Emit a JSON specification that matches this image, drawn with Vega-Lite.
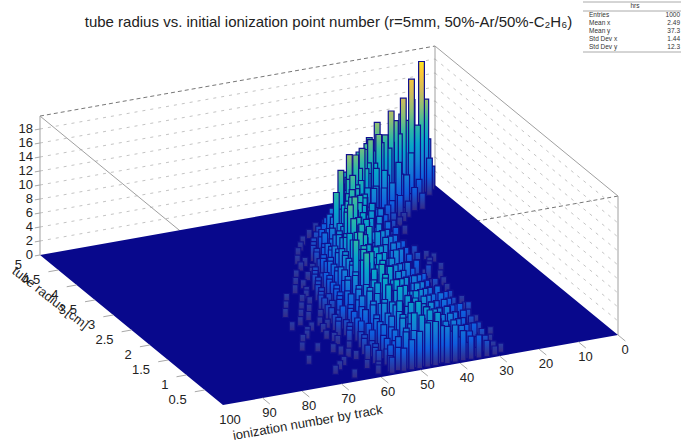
{"$schema":"https://vega.github.io/schema/vega-lite/v6.json","width":681,"height":442,"padding":0,"autosize":"none","background":"white","config":{"view":{"stroke":null},"text":{"font":"Liberation Sans"}},
"title":{"text":"tube radius vs. initial ionization point number (r=5mm, 50%-Ar/50%-C₂H₆)","font":"Liberation Sans","fontSize":15,"fontWeight":"normal","color":"#222","anchor":"middle","dx":-12,"dy":34},
"datasets":{
"segs":[{"k":"g","a":100,"b":5,"z":2,"a2":0,"b2":5,"z2":2},{"k":"g","a":100,"b":5,"z":4,"a2":0,"b2":5,"z2":4},{"k":"g","a":100,"b":5,"z":6,"a2":0,"b2":5,"z2":6},{"k":"g","a":100,"b":5,"z":8,"a2":0,"b2":5,"z2":8},{"k":"g","a":100,"b":5,"z":10,"a2":0,"b2":5,"z2":10},{"k":"g","a":100,"b":5,"z":12,"a2":0,"b2":5,"z2":12},{"k":"g","a":100,"b":5,"z":14,"a2":0,"b2":5,"z2":14},{"k":"g","a":100,"b":5,"z":16,"a2":0,"b2":5,"z2":16},{"k":"g","a":100,"b":5,"z":18,"a2":0,"b2":5,"z2":18},
{"k":"g","a":0,"b":5,"z":2,"a2":0,"b2":0,"z2":2},{"k":"g","a":0,"b":5,"z":4,"a2":0,"b2":0,"z2":4},{"k":"g","a":0,"b":5,"z":6,"a2":0,"b2":0,"z2":6},{"k":"g","a":0,"b":5,"z":8,"a2":0,"b2":0,"z2":8},{"k":"g","a":0,"b":5,"z":10,"a2":0,"b2":0,"z2":10},{"k":"g","a":0,"b":5,"z":12,"a2":0,"b2":0,"z2":12},{"k":"g","a":0,"b":5,"z":14,"a2":0,"b2":0,"z2":14},{"k":"g","a":0,"b":5,"z":16,"a2":0,"b2":0,"z2":16},{"k":"g","a":0,"b":5,"z":18,"a2":0,"b2":0,"z2":18},
{"k":"d","a":100,"b":5,"z":19.85,"a2":0,"b2":5,"z2":19.85},{"k":"d","a":0,"b":0,"z":19.85,"a2":100,"b2":0,"z2":19.85},
{"k":"f","a":0,"b":5,"z":19.85,"a2":0,"b2":0,"z2":19.85},{"k":"f","a":100,"b":5,"z":19.85,"a2":100,"b2":0,"z2":19.85},{"k":"f","a":100,"b":5,"z":0,"a2":100,"b2":5,"z2":19.85},{"k":"f","a":0,"b":5,"z":0,"a2":0,"b2":5,"z2":19.85},{"k":"f","a":0,"b":0,"z":0,"a2":0,"b2":0,"z2":19.85}],
"ticks":[{"a":100,"b":0.5,"z":0,"a2":102.5,"b2":0.5,"z2":0},{"a":100,"b":1,"z":0,"a2":102.5,"b2":1,"z2":0},{"a":100,"b":1.5,"z":0,"a2":102.5,"b2":1.5,"z2":0},{"a":100,"b":2,"z":0,"a2":102.5,"b2":2,"z2":0},{"a":100,"b":2.5,"z":0,"a2":102.5,"b2":2.5,"z2":0},{"a":100,"b":3,"z":0,"a2":102.5,"b2":3,"z2":0},{"a":100,"b":3.5,"z":0,"a2":102.5,"b2":3.5,"z2":0},{"a":100,"b":4,"z":0,"a2":102.5,"b2":4,"z2":0},{"a":100,"b":4.5,"z":0,"a2":102.5,"b2":4.5,"z2":0},
{"a":0,"b":0,"z":0,"a2":0,"b2":-0.2,"z2":0},{"a":10,"b":0,"z":0,"a2":10,"b2":-0.2,"z2":0},{"a":20,"b":0,"z":0,"a2":20,"b2":-0.2,"z2":0},{"a":30,"b":0,"z":0,"a2":30,"b2":-0.2,"z2":0},{"a":40,"b":0,"z":0,"a2":40,"b2":-0.2,"z2":0},{"a":50,"b":0,"z":0,"a2":50,"b2":-0.2,"z2":0},{"a":60,"b":0,"z":0,"a2":60,"b2":-0.2,"z2":0},{"a":70,"b":0,"z":0,"a2":70,"b2":-0.2,"z2":0},{"a":80,"b":0,"z":0,"a2":80,"b2":-0.2,"z2":0},{"a":90,"b":0,"z":0,"a2":90,"b2":-0.2,"z2":0},
{"a":100,"b":5,"z":0,"a2":101.3,"b2":5,"z2":0},{"a":100,"b":5,"z":2,"a2":101.3,"b2":5,"z2":2},{"a":100,"b":5,"z":4,"a2":101.3,"b2":5,"z2":4},{"a":100,"b":5,"z":6,"a2":101.3,"b2":5,"z2":6},{"a":100,"b":5,"z":8,"a2":101.3,"b2":5,"z2":8},{"a":100,"b":5,"z":10,"a2":101.3,"b2":5,"z2":10},{"a":100,"b":5,"z":12,"a2":101.3,"b2":5,"z2":12},{"a":100,"b":5,"z":14,"a2":101.3,"b2":5,"z2":14},{"a":100,"b":5,"z":16,"a2":101.3,"b2":5,"z2":16},{"a":100,"b":5,"z":18,"a2":101.3,"b2":5,"z2":18}],
"floor":[{"a":100,"b":5,"a2":100,"b2":5},{"a":53.67,"b":5,"a2":100,"b2":0},{"a":0,"b":5,"a2":46.3,"b2":0},{"a":0,"b":0,"a2":0,"b2":0}],
"zlab":[{"z":0},{"z":2},{"z":4},{"z":6},{"z":8},{"z":10},{"z":12},{"z":14},{"z":16},{"z":18}],
"rlab":[{"r":0.5},{"r":1},{"r":1.5},{"r":2},{"r":2.5},{"r":3},{"r":3.5},{"r":4},{"r":4.5},{"r":5}],
"alab":[{"t":0},{"t":10},{"t":20},{"t":30},{"t":40},{"t":50},{"t":60},{"t":70},{"t":80},{"t":90},{"t":100}],
"stats":[{"i":0,"name":"Entries","val":"1000"},{"i":1,"name":"Mean x","val":"2.49"},{"i":2,"name":"Mean y","val":"37.3"},{"i":3,"name":"Std Dev x","val":"1.44"},{"i":4,"name":"Std Dev y","val":"12.3"}],
"bars":[
{"b":4.9,"a":1,"n":3},{"b":4.9,"a":2,"n":7},{"b":4.85,"a":3,"n":13},{"b":4.9,"a":4,"n":9},{"b":4.9,"a":6,"n":13},{"b":4.9,"a":7,"n":9},{"b":4.9,"a":8,"n":10},{"b":4.9,"a":9,"n":8},{"b":4.9,"a":10,"n":5},{"b":4.9,"a":11,"n":4},{"b":4.9,"a":12,"n":3},{"b":4.9,"a":14,"n":1},
{"b":4.75,"a":3,"n":5},{"b":4.75,"a":5,"n":19},{"b":4.75,"a":6,"n":10},{"b":4.7,"a":8,"n":17},{"b":4.75,"a":9,"n":11},{"b":4.75,"a":10,"n":12},{"b":4.75,"a":11,"n":9},{"b":4.75,"a":12,"n":8},{"b":4.75,"a":14,"n":5},{"b":4.75,"a":15,"n":3},{"b":4.75,"a":17,"n":2},{"b":4.75,"a":20,"n":1},
{"b":4.6,"a":7,"n":3},{"b":4.6,"a":9,"n":7},{"b":4.6,"a":11,"n":15},{"b":4.6,"a":12,"n":10},{"b":4.6,"a":13,"n":12},{"b":4.6,"a":14,"n":9},{"b":4.5,"a":15,"n":14},{"b":4.6,"a":16,"n":10},{"b":4.6,"a":17,"n":7},{"b":4.6,"a":18,"n":6},{"b":4.6,"a":20,"n":4},{"b":4.6,"a":22,"n":2},{"b":4.6,"a":25,"n":1},
{"b":4.45,"a":11,"n":2},{"b":4.45,"a":13,"n":5},{"b":4.45,"a":16,"n":9},{"b":4.45,"a":17,"n":11},{"b":4.45,"a":18,"n":10},{"b":4.45,"a":19,"n":13},{"b":4.45,"a":20,"n":9},{"b":4.45,"a":21,"n":11},{"b":4.45,"a":22,"n":8},{"b":4.45,"a":23,"n":7},{"b":4.45,"a":25,"n":4},{"b":4.45,"a":27,"n":2},{"b":4.45,"a":31,"n":1},
{"b":4.4,"a":8,"n":2},{"b":4.4,"a":10,"n":3},{"b":4.4,"a":12,"n":5},{"b":4.4,"a":14,"n":7},
{"b":4.3,"a":14,"n":1},{"b":4.3,"a":16,"n":3},{"b":4.3,"a":18,"n":6},{"b":4.3,"a":20,"n":12},{"b":4.3,"a":21,"n":8},{"b":4.3,"a":22,"n":10},{"b":4.3,"a":23,"n":11},{"b":4.3,"a":24,"n":9},{"b":4.3,"a":25,"n":10},{"b":4.3,"a":26,"n":7},{"b":4.3,"a":28,"n":6},{"b":4.3,"a":30,"n":3},{"b":4.3,"a":32,"n":2},{"b":4.3,"a":36,"n":1},
{"b":4.25,"a":13,"n":2},{"b":4.25,"a":15,"n":3},{"b":4.25,"a":17,"n":5},{"b":4.25,"a":19,"n":7},
{"b":4.15,"a":15,"n":1},{"b":4.15,"a":18,"n":3},{"b":4.15,"a":20,"n":5},{"b":4.15,"a":22,"n":8},{"b":4.2,"a":23,"n":12},{"b":4.15,"a":24,"n":9},{"b":4.15,"a":25,"n":11},{"b":4.15,"a":26,"n":8},{"b":4.15,"a":27,"n":10},{"b":4.15,"a":28,"n":9},{"b":4.15,"a":29,"n":7},{"b":4.15,"a":31,"n":5},{"b":4.15,"a":33,"n":3},{"b":4.15,"a":35,"n":2},{"b":4.15,"a":39,"n":1},
{"b":4.05,"a":17,"n":1},{"b":4.05,"a":20,"n":3},{"b":4.05,"a":23,"n":6},{"b":4.05,"a":25,"n":8},
{"b":4,"a":19,"n":2},{"b":4,"a":22,"n":3},{"b":4,"a":24,"n":6},{"b":4,"a":26,"n":9},{"b":4,"a":27,"n":12},{"b":4,"a":28,"n":8},{"b":4,"a":29,"n":10},{"b":4,"a":30,"n":7},{"b":4,"a":31,"n":9},{"b":4,"a":32,"n":6},{"b":4,"a":34,"n":4},{"b":4,"a":36,"n":3},{"b":4,"a":38,"n":2},{"b":4,"a":42,"n":1},
{"b":3.85,"a":20,"n":1},{"b":3.85,"a":23,"n":2},{"b":3.85,"a":25,"n":4},{"b":3.85,"a":27,"n":7},{"b":3.85,"a":29,"n":10},{"b":3.85,"a":30,"n":12},{"b":3.85,"a":31,"n":8},{"b":3.85,"a":32,"n":9},{"b":3.85,"a":33,"n":7},{"b":3.85,"a":34,"n":6},{"b":3.85,"a":36,"n":5},{"b":3.85,"a":38,"n":3},{"b":3.85,"a":40,"n":2},{"b":3.85,"a":44,"n":1},
{"b":3.8,"a":18,"n":1},{"b":3.8,"a":21,"n":2},{"b":3.8,"a":23,"n":3},{"b":3.8,"a":25,"n":4},
{"b":3.7,"a":22,"n":1},{"b":3.7,"a":26,"n":3},{"b":3.7,"a":28,"n":5},{"b":3.7,"a":30,"n":9},{"b":3.7,"a":31,"n":7},{"b":3.7,"a":33,"n":13},{"b":3.7,"a":34,"n":8},{"b":3.7,"a":35,"n":9},{"b":3.7,"a":36,"n":6},{"b":3.7,"a":38,"n":5},{"b":3.7,"a":40,"n":3},{"b":3.7,"a":42,"n":2},{"b":3.7,"a":46,"n":1},
{"b":3.6,"a":22,"n":2},{"b":3.6,"a":24,"n":3},{"b":3.6,"a":26,"n":5},{"b":3.6,"a":28,"n":6},{"b":3.6,"a":30,"n":7},{"b":3.6,"a":32,"n":9},{"b":3.6,"a":34,"n":10},{"b":3.6,"a":36,"n":7},{"b":3.6,"a":38,"n":5},{"b":3.6,"a":40,"n":3},{"b":3.6,"a":43,"n":2},
{"b":3.5,"a":24,"n":2},{"b":3.5,"a":27,"n":3},{"b":3.5,"a":29,"n":5},{"b":3.5,"a":31,"n":8},{"b":3.5,"a":32,"n":7},{"b":3.5,"a":33,"n":9},{"b":3.5,"a":34,"n":11},{"b":3.5,"a":35,"n":8},{"b":3.5,"a":37,"n":12},{"b":3.5,"a":38,"n":6},{"b":3.5,"a":40,"n":4},{"b":3.5,"a":42,"n":3},{"b":3.5,"a":44,"n":2},{"b":3.5,"a":48,"n":1},
{"b":3.4,"a":22,"n":1},{"b":3.4,"a":24,"n":3},{"b":3.4,"a":26,"n":4},{"b":3.4,"a":28,"n":5},{"b":3.4,"a":30,"n":7},{"b":3.4,"a":32,"n":8},{"b":3.4,"a":34,"n":7},{"b":3.4,"a":36,"n":9},{"b":3.4,"a":38,"n":7},{"b":3.4,"a":40,"n":5},{"b":3.4,"a":42,"n":4},{"b":3.4,"a":44,"n":2},{"b":3.4,"a":47,"n":1},
{"b":3.3,"a":25,"n":1},{"b":3.3,"a":28,"n":2},{"b":3.3,"a":30,"n":4},{"b":3.3,"a":32,"n":6},{"b":3.3,"a":34,"n":9},{"b":3.3,"a":35,"n":8},{"b":3.3,"a":36,"n":10},{"b":3.3,"a":37,"n":7},{"b":3.3,"a":38,"n":8},{"b":3.3,"a":40,"n":10},{"b":3.3,"a":41,"n":5},{"b":3.3,"a":43,"n":3},{"b":3.3,"a":45,"n":2},{"b":3.3,"a":49,"n":1},
{"b":3.2,"a":21,"n":1},{"b":3.2,"a":24,"n":2},{"b":3.2,"a":26,"n":3},{"b":3.2,"a":28,"n":4},{"b":3.2,"a":30,"n":6},{"b":3.2,"a":32,"n":7},{"b":3.2,"a":34,"n":8},{"b":3.2,"a":36,"n":7},{"b":3.2,"a":38,"n":9},{"b":3.2,"a":40,"n":6},{"b":3.2,"a":42,"n":4},{"b":3.2,"a":44,"n":3},{"b":3.2,"a":47,"n":1},
{"b":3.1,"a":24,"n":1},{"b":3.1,"a":28,"n":2},{"b":3.1,"a":31,"n":3},{"b":3.1,"a":33,"n":5},{"b":3.1,"a":35,"n":7},{"b":3.1,"a":36,"n":9},{"b":3.1,"a":37,"n":8},{"b":3.1,"a":38,"n":10},{"b":3.1,"a":39,"n":7},{"b":3.1,"a":40,"n":6},{"b":3.1,"a":42,"n":5},{"b":3.1,"a":44,"n":4},{"b":3.1,"a":46,"n":2},{"b":3.1,"a":48,"n":1},{"b":3.1,"a":52,"n":1},
{"b":3,"a":20,"n":1},{"b":3,"a":23,"n":2},{"b":3,"a":26,"n":3},{"b":3,"a":28,"n":4},{"b":3,"a":30,"n":5},{"b":3,"a":32,"n":6},{"b":3,"a":34,"n":7},{"b":3,"a":36,"n":8},{"b":3,"a":38,"n":7},{"b":3,"a":40,"n":9},{"b":3,"a":42,"n":6},{"b":3,"a":44,"n":4},{"b":3,"a":46,"n":3},{"b":3,"a":50,"n":1},
{"b":2.9,"a":19,"n":1},{"b":2.9,"a":27,"n":1},{"b":2.9,"a":31,"n":2},{"b":2.9,"a":33,"n":3},{"b":2.9,"a":35,"n":5},{"b":2.9,"a":36,"n":7},{"b":2.9,"a":38,"n":8},{"b":2.9,"a":39,"n":11},{"b":2.9,"a":40,"n":8},{"b":2.9,"a":41,"n":9},{"b":2.9,"a":43,"n":6},{"b":2.9,"a":45,"n":4},{"b":2.9,"a":47,"n":3},{"b":2.9,"a":49,"n":2},{"b":2.9,"a":54,"n":1},
{"b":2.8,"a":21,"n":1},{"b":2.8,"a":24,"n":2},{"b":2.8,"a":27,"n":3},{"b":2.8,"a":29,"n":4},{"b":2.8,"a":31,"n":5},{"b":2.8,"a":33,"n":6},{"b":2.8,"a":35,"n":6},{"b":2.8,"a":37,"n":8},{"b":2.8,"a":39,"n":7},{"b":2.8,"a":41,"n":8},{"b":2.8,"a":43,"n":6},{"b":2.8,"a":45,"n":5},{"b":2.8,"a":47,"n":3},{"b":2.8,"a":50,"n":2},{"b":2.8,"a":53,"n":1},
{"b":2.7,"a":22,"n":1},{"b":2.7,"a":29,"n":1},{"b":2.7,"a":32,"n":2},{"b":2.7,"a":34,"n":3},{"b":2.7,"a":36,"n":5},{"b":2.7,"a":38,"n":7},{"b":2.7,"a":39,"n":6},{"b":2.7,"a":40,"n":9},{"b":2.7,"a":41,"n":8},{"b":2.7,"a":42,"n":11},{"b":2.7,"a":43,"n":7},{"b":2.7,"a":45,"n":5},{"b":2.7,"a":47,"n":4},{"b":2.7,"a":49,"n":2},{"b":2.7,"a":51,"n":2},{"b":2.7,"a":56,"n":1},
{"b":2.6,"a":20,"n":1},{"b":2.6,"a":23,"n":1},{"b":2.6,"a":26,"n":2},{"b":2.6,"a":28,"n":3},{"b":2.6,"a":30,"n":4},{"b":2.6,"a":32,"n":5},{"b":2.6,"a":34,"n":6},{"b":2.6,"a":36,"n":7},{"b":2.6,"a":38,"n":6},{"b":2.6,"a":40,"n":8},{"b":2.6,"a":42,"n":7},{"b":2.6,"a":44,"n":7},{"b":2.6,"a":46,"n":5},{"b":2.6,"a":48,"n":4},{"b":2.6,"a":51,"n":2},{"b":2.6,"a":54,"n":1},
{"b":2.5,"a":25,"n":1},{"b":2.5,"a":30,"n":1},{"b":2.5,"a":33,"n":2},{"b":2.5,"a":35,"n":3},{"b":2.5,"a":37,"n":4},{"b":2.5,"a":39,"n":6},{"b":2.5,"a":41,"n":9},{"b":2.5,"a":42,"n":7},{"b":2.5,"a":43,"n":10},{"b":2.5,"a":44,"n":8},{"b":2.5,"a":46,"n":6},{"b":2.5,"a":48,"n":4},{"b":2.5,"a":50,"n":3},{"b":2.5,"a":52,"n":2},{"b":2.5,"a":55,"n":1},{"b":2.5,"a":60,"n":1},
{"b":2.4,"a":22,"n":1},{"b":2.4,"a":25,"n":2},{"b":2.4,"a":28,"n":3},{"b":2.4,"a":30,"n":3},{"b":2.4,"a":32,"n":5},{"b":2.4,"a":34,"n":5},{"b":2.4,"a":36,"n":6},{"b":2.4,"a":38,"n":6},{"b":2.4,"a":40,"n":9},{"b":2.4,"a":42,"n":8},{"b":2.4,"a":44,"n":7},{"b":2.4,"a":46,"n":6},{"b":2.4,"a":48,"n":4},{"b":2.4,"a":50,"n":3},{"b":2.4,"a":53,"n":2},{"b":2.4,"a":57,"n":1},
{"b":2.3,"a":27,"n":1},{"b":2.3,"a":32,"n":1},{"b":2.3,"a":35,"n":2},{"b":2.3,"a":37,"n":3},{"b":2.3,"a":39,"n":5},{"b":2.3,"a":41,"n":7},{"b":2.3,"a":42,"n":8},{"b":2.3,"a":43,"n":6},{"b":2.3,"a":44,"n":9},{"b":2.3,"a":45,"n":8},{"b":2.3,"a":47,"n":6},{"b":2.3,"a":49,"n":4},{"b":2.3,"a":51,"n":3},{"b":2.3,"a":53,"n":2},{"b":2.3,"a":56,"n":1},{"b":2.3,"a":62,"n":1},
{"b":2.2,"a":23,"n":1},{"b":2.2,"a":26,"n":1},{"b":2.2,"a":29,"n":2},{"b":2.2,"a":31,"n":3},{"b":2.2,"a":33,"n":4},{"b":2.2,"a":35,"n":6},{"b":2.2,"a":37,"n":5},{"b":2.2,"a":39,"n":7},{"b":2.2,"a":41,"n":6},{"b":2.2,"a":43,"n":9},{"b":2.2,"a":45,"n":7},{"b":2.2,"a":47,"n":6},{"b":2.2,"a":49,"n":5},{"b":2.2,"a":51,"n":3},{"b":2.2,"a":54,"n":2},{"b":2.2,"a":59,"n":1},
{"b":2.1,"a":28,"n":1},{"b":2.1,"a":33,"n":2},{"b":2.1,"a":36,"n":2},{"b":2.1,"a":38,"n":4},{"b":2.1,"a":40,"n":5},{"b":2.1,"a":42,"n":6},{"b":2.1,"a":43,"n":8},{"b":2.1,"a":45,"n":10},{"b":2.1,"a":46,"n":7},{"b":2.1,"a":47,"n":6},{"b":2.1,"a":49,"n":5},{"b":2.1,"a":51,"n":3},{"b":2.1,"a":53,"n":2},{"b":2.1,"a":55,"n":2},{"b":2.1,"a":58,"n":1},{"b":2.1,"a":64,"n":1},
{"b":2,"a":24,"n":1},{"b":2,"a":27,"n":2},{"b":2,"a":30,"n":3},{"b":2,"a":32,"n":3},{"b":2,"a":34,"n":5},{"b":2,"a":36,"n":5},{"b":2,"a":38,"n":6},{"b":2,"a":40,"n":7},{"b":2,"a":42,"n":8},{"b":2,"a":44,"n":7},{"b":2,"a":46,"n":8},{"b":2,"a":48,"n":6},{"b":2,"a":50,"n":4},{"b":2,"a":52,"n":3},{"b":2,"a":55,"n":2},{"b":2,"a":61,"n":1},
{"b":1.9,"a":30,"n":1},{"b":1.9,"a":34,"n":1},{"b":1.9,"a":37,"n":2},{"b":1.9,"a":39,"n":3},{"b":1.9,"a":41,"n":5},{"b":1.9,"a":43,"n":7},{"b":1.9,"a":44,"n":6},{"b":1.9,"a":45,"n":8},{"b":1.9,"a":46,"n":9},{"b":1.9,"a":47,"n":7},{"b":1.9,"a":48,"n":10},{"b":1.9,"a":50,"n":5},{"b":1.9,"a":52,"n":3},{"b":1.9,"a":54,"n":2},{"b":1.9,"a":57,"n":1},{"b":1.9,"a":60,"n":1},
{"b":1.8,"a":25,"n":1},{"b":1.8,"a":28,"n":2},{"b":1.8,"a":31,"n":3},{"b":1.8,"a":33,"n":4},{"b":1.8,"a":35,"n":4},{"b":1.8,"a":37,"n":5},{"b":1.8,"a":39,"n":6},{"b":1.8,"a":41,"n":6},{"b":1.8,"a":43,"n":8},{"b":1.8,"a":45,"n":7},{"b":1.8,"a":47,"n":9},{"b":1.8,"a":49,"n":6},{"b":1.8,"a":51,"n":5},{"b":1.8,"a":53,"n":3},{"b":1.8,"a":56,"n":2},{"b":1.8,"a":63,"n":1},
{"b":1.7,"a":31,"n":1},{"b":1.7,"a":35,"n":2},{"b":1.7,"a":38,"n":2},{"b":1.7,"a":40,"n":3},{"b":1.7,"a":42,"n":4},{"b":1.7,"a":44,"n":6},{"b":1.7,"a":45,"n":7},{"b":1.7,"a":46,"n":9},{"b":1.7,"a":47,"n":6},{"b":1.7,"a":48,"n":8},{"b":1.7,"a":50,"n":6},{"b":1.7,"a":52,"n":4},{"b":1.7,"a":54,"n":3},{"b":1.7,"a":56,"n":2},{"b":1.7,"a":59,"n":1},{"b":1.7,"a":66,"n":1},
{"b":1.6,"a":24,"n":1},{"b":1.6,"a":27,"n":2},{"b":1.6,"a":30,"n":3},{"b":1.6,"a":32,"n":3},{"b":1.6,"a":34,"n":4},{"b":1.6,"a":36,"n":5},{"b":1.6,"a":38,"n":5},{"b":1.6,"a":40,"n":6},{"b":1.6,"a":42,"n":7},{"b":1.6,"a":44,"n":8},{"b":1.6,"a":46,"n":6},{"b":1.6,"a":48,"n":8},{"b":1.6,"a":50,"n":5},{"b":1.6,"a":52,"n":4},{"b":1.6,"a":55,"n":2},{"b":1.6,"a":58,"n":1},{"b":1.6,"a":62,"n":1},
{"b":1.5,"a":30,"n":1},{"b":1.5,"a":36,"n":1},{"b":1.5,"a":39,"n":2},{"b":1.5,"a":41,"n":4},{"b":1.5,"a":43,"n":5},{"b":1.5,"a":45,"n":6},{"b":1.5,"a":46,"n":8},{"b":1.5,"a":47,"n":7},{"b":1.5,"a":48,"n":6},{"b":1.5,"a":49,"n":10},{"b":1.5,"a":51,"n":5},{"b":1.5,"a":53,"n":3},{"b":1.5,"a":55,"n":3},{"b":1.5,"a":57,"n":2},{"b":1.5,"a":60,"n":1},{"b":1.5,"a":64,"n":1},
{"b":1.4,"a":25,"n":1},{"b":1.4,"a":28,"n":2},{"b":1.4,"a":30,"n":3},{"b":1.4,"a":32,"n":4},{"b":1.4,"a":34,"n":4},{"b":1.4,"a":36,"n":5},{"b":1.4,"a":38,"n":5},{"b":1.4,"a":40,"n":6},{"b":1.4,"a":42,"n":6},{"b":1.4,"a":44,"n":8},{"b":1.4,"a":46,"n":7},{"b":1.4,"a":48,"n":8},{"b":1.4,"a":50,"n":6},{"b":1.4,"a":52,"n":4},{"b":1.4,"a":54,"n":3},{"b":1.4,"a":57,"n":2},{"b":1.4,"a":65,"n":1},
{"b":1.3,"a":31,"n":1},{"b":1.3,"a":36,"n":2},{"b":1.3,"a":39,"n":2},{"b":1.3,"a":41,"n":3},{"b":1.3,"a":43,"n":5},{"b":1.3,"a":45,"n":6},{"b":1.3,"a":47,"n":9},{"b":1.3,"a":48,"n":5},{"b":1.3,"a":49,"n":7},{"b":1.3,"a":50,"n":6},{"b":1.3,"a":52,"n":5},{"b":1.3,"a":54,"n":3},{"b":1.3,"a":56,"n":2},{"b":1.3,"a":58,"n":2},{"b":1.3,"a":61,"n":1},{"b":1.3,"a":67,"n":1},
{"b":1.2,"a":26,"n":2},{"b":1.2,"a":29,"n":2},{"b":1.2,"a":31,"n":3},{"b":1.2,"a":33,"n":4},{"b":1.2,"a":35,"n":4},{"b":1.2,"a":37,"n":5},{"b":1.2,"a":39,"n":6},{"b":1.2,"a":41,"n":5},{"b":1.2,"a":43,"n":7},{"b":1.2,"a":45,"n":7},{"b":1.2,"a":47,"n":8},{"b":1.2,"a":49,"n":7},{"b":1.2,"a":51,"n":6},{"b":1.2,"a":53,"n":4},{"b":1.2,"a":56,"n":2},{"b":1.2,"a":60,"n":1},
{"b":1.1,"a":29,"n":1},{"b":1.1,"a":34,"n":1},{"b":1.1,"a":38,"n":2},{"b":1.1,"a":40,"n":3},{"b":1.1,"a":42,"n":4},{"b":1.1,"a":44,"n":5},{"b":1.1,"a":46,"n":6},{"b":1.1,"a":47,"n":7},{"b":1.1,"a":48,"n":8},{"b":1.1,"a":50,"n":6},{"b":1.1,"a":51,"n":5},{"b":1.1,"a":53,"n":4},{"b":1.1,"a":55,"n":3},{"b":1.1,"a":57,"n":2},{"b":1.1,"a":60,"n":1},{"b":1.1,"a":69,"n":1},
{"b":1,"a":26,"n":1},{"b":1,"a":28,"n":2},{"b":1,"a":30,"n":3},{"b":1,"a":32,"n":3},{"b":1,"a":34,"n":4},{"b":1,"a":36,"n":4},{"b":1,"a":38,"n":5},{"b":1,"a":40,"n":6},{"b":1,"a":42,"n":6},{"b":1,"a":44,"n":7},{"b":1,"a":46,"n":8},{"b":1,"a":48,"n":7},{"b":1,"a":50,"n":5},{"b":1,"a":52,"n":5},{"b":1,"a":55,"n":3},{"b":1,"a":58,"n":2},{"b":1,"a":66,"n":1},
{"b":0.9,"a":30,"n":1},{"b":0.9,"a":35,"n":1},{"b":0.9,"a":38,"n":2},{"b":0.9,"a":40,"n":3},{"b":0.9,"a":42,"n":4},{"b":0.9,"a":44,"n":6},{"b":0.9,"a":46,"n":5},{"b":0.9,"a":47,"n":7},{"b":0.9,"a":49,"n":8},{"b":0.9,"a":50,"n":6},{"b":0.9,"a":52,"n":4},{"b":0.9,"a":54,"n":3},{"b":0.9,"a":56,"n":2},{"b":0.9,"a":59,"n":1},{"b":0.9,"a":63,"n":1},
{"b":0.8,"a":27,"n":1},{"b":0.8,"a":29,"n":2},{"b":0.8,"a":31,"n":3},{"b":0.8,"a":33,"n":3},{"b":0.8,"a":35,"n":4},{"b":0.8,"a":37,"n":4},{"b":0.8,"a":39,"n":5},{"b":0.8,"a":41,"n":6},{"b":0.8,"a":43,"n":7},{"b":0.8,"a":45,"n":6},{"b":0.8,"a":47,"n":8},{"b":0.8,"a":49,"n":6},{"b":0.8,"a":51,"n":6},{"b":0.8,"a":53,"n":4},{"b":0.8,"a":56,"n":2},{"b":0.8,"a":62,"n":1},
{"b":0.7,"a":32,"n":1},{"b":0.7,"a":36,"n":2},{"b":0.7,"a":38,"n":2},{"b":0.7,"a":40,"n":4},{"b":0.7,"a":42,"n":5},{"b":0.7,"a":44,"n":5},{"b":0.7,"a":46,"n":7},{"b":0.7,"a":48,"n":6},{"b":0.7,"a":49,"n":6},{"b":0.7,"a":51,"n":5},{"b":0.7,"a":53,"n":4},{"b":0.7,"a":55,"n":3},{"b":0.7,"a":57,"n":2},{"b":0.7,"a":61,"n":1},{"b":0.7,"a":71,"n":1},
{"b":0.6,"a":26,"n":1},{"b":0.6,"a":29,"n":2},{"b":0.6,"a":31,"n":2},{"b":0.6,"a":33,"n":3},{"b":0.6,"a":35,"n":4},{"b":0.6,"a":37,"n":5},{"b":0.6,"a":39,"n":5},{"b":0.6,"a":41,"n":6},{"b":0.6,"a":43,"n":6},{"b":0.6,"a":45,"n":7},{"b":0.6,"a":47,"n":6},{"b":0.6,"a":49,"n":7},{"b":0.6,"a":51,"n":5},{"b":0.6,"a":53,"n":4},{"b":0.6,"a":56,"n":2},{"b":0.6,"a":60,"n":1},
{"b":0.5,"a":31,"n":1},{"b":0.5,"a":34,"n":1},{"b":0.5,"a":37,"n":2},{"b":0.5,"a":39,"n":3},{"b":0.5,"a":41,"n":4},{"b":0.5,"a":43,"n":6},{"b":0.5,"a":45,"n":5},{"b":0.5,"a":47,"n":7},{"b":0.5,"a":48,"n":5},{"b":0.5,"a":50,"n":6},{"b":0.5,"a":52,"n":4},{"b":0.5,"a":54,"n":3},{"b":0.5,"a":56,"n":2},{"b":0.5,"a":58,"n":2},{"b":0.5,"a":64,"n":1},
{"b":0.4,"a":28,"n":1},{"b":0.4,"a":30,"n":2},{"b":0.4,"a":32,"n":3},{"b":0.4,"a":34,"n":3},{"b":0.4,"a":36,"n":4},{"b":0.4,"a":38,"n":5},{"b":0.4,"a":40,"n":5},{"b":0.4,"a":42,"n":6},{"b":0.4,"a":44,"n":6},{"b":0.4,"a":46,"n":7},{"b":0.4,"a":48,"n":6},{"b":0.4,"a":50,"n":6},{"b":0.4,"a":52,"n":4},{"b":0.4,"a":54,"n":3},{"b":0.4,"a":57,"n":2},{"b":0.4,"a":66,"n":1},
{"b":0.3,"a":33,"n":1},{"b":0.3,"a":36,"n":2},{"b":0.3,"a":38,"n":3},{"b":0.3,"a":40,"n":4},{"b":0.3,"a":42,"n":5},{"b":0.3,"a":44,"n":6},{"b":0.3,"a":45,"n":7},{"b":0.3,"a":47,"n":8},{"b":0.3,"a":49,"n":5},{"b":0.3,"a":51,"n":6},{"b":0.3,"a":53,"n":3},{"b":0.3,"a":55,"n":2},{"b":0.3,"a":57,"n":2},{"b":0.3,"a":60,"n":1},{"b":0.3,"a":68,"n":1},
{"b":0.2,"a":29,"n":1},{"b":0.2,"a":31,"n":2},{"b":0.2,"a":33,"n":2},{"b":0.2,"a":35,"n":3},{"b":0.2,"a":37,"n":4},{"b":0.2,"a":39,"n":5},{"b":0.2,"a":41,"n":5},{"b":0.2,"a":43,"n":6},{"b":0.2,"a":45,"n":7},{"b":0.2,"a":47,"n":6},{"b":0.2,"a":49,"n":7},{"b":0.2,"a":51,"n":5},{"b":0.2,"a":53,"n":4},{"b":0.2,"a":55,"n":3},{"b":0.2,"a":58,"n":1},
{"b":0.1,"a":28,"n":1},{"b":0.1,"a":34,"n":1},{"b":0.1,"a":37,"n":2},{"b":0.1,"a":39,"n":3},{"b":0.1,"a":41,"n":4},{"b":0.1,"a":43,"n":5},{"b":0.1,"a":44,"n":7},{"b":0.1,"a":46,"n":6},{"b":0.1,"a":48,"n":7},{"b":0.1,"a":50,"n":5},{"b":0.1,"a":52,"n":5},{"b":0.1,"a":54,"n":3},{"b":0.1,"a":56,"n":2},{"b":0.1,"a":59,"n":1},{"b":0.1,"a":65,"n":1},
{"b":0.05,"a":30,"n":1},{"b":0.05,"a":32,"n":2},{"b":0.05,"a":34,"n":3},{"b":0.05,"a":36,"n":3},{"b":0.05,"a":38,"n":4},{"b":0.05,"a":40,"n":5},{"b":0.05,"a":42,"n":5},{"b":0.05,"a":45,"n":6},{"b":0.05,"a":47,"n":6},{"b":0.05,"a":49,"n":5},{"b":0.05,"a":51,"n":4},{"b":0.05,"a":53,"n":3},{"b":0.05,"a":56,"n":2}
]},
"encoding":{},
"layer":[
{"data":{"name":"segs"},"transform":[{"filter":"datum.k=='g'"},{"calculate":"618-3.95*datum.a-36.6*datum.b","as":"px"},{"calculate":"335+0.7*datum.a-30*datum.b-7*datum.z","as":"py"},{"calculate":"618-3.95*datum.a2-36.6*datum.b2","as":"px2"},{"calculate":"335+0.7*datum.a2-30*datum.b2-7*datum.z2","as":"py2"}],
"mark":{"type":"rule","color":"#b4b4b4","strokeWidth":0.8,"strokeDash":[3,5]},
"encoding":{"x":{"field":"px","type":"quantitative","scale":{"domain":[0,681],"nice":false,"zero":false},"axis":null},"y":{"field":"py","type":"quantitative","scale":{"domain":[442,0],"nice":false,"zero":false},"axis":null},"x2":{"field":"px2"},"y2":{"field":"py2"}}},
{"data":{"name":"segs"},"transform":[{"filter":"datum.k=='d'"},{"calculate":"618-3.95*datum.a-36.6*datum.b","as":"px"},{"calculate":"335+0.7*datum.a-30*datum.b-7*datum.z","as":"py"},{"calculate":"618-3.95*datum.a2-36.6*datum.b2","as":"px2"},{"calculate":"335+0.7*datum.a2-30*datum.b2-7*datum.z2","as":"py2"}],
"mark":{"type":"rule","color":"#777777","strokeWidth":1,"strokeDash":[4,3]},
"encoding":{"x":{"field":"px","type":"quantitative","axis":null},"y":{"field":"py","type":"quantitative","axis":null},"x2":{"field":"px2"},"y2":{"field":"py2"}}},
{"data":{"name":"segs"},"transform":[{"filter":"datum.k=='f'"},{"calculate":"618-3.95*datum.a-36.6*datum.b","as":"px"},{"calculate":"335+0.7*datum.a-30*datum.b-7*datum.z","as":"py"},{"calculate":"618-3.95*datum.a2-36.6*datum.b2","as":"px2"},{"calculate":"335+0.7*datum.a2-30*datum.b2-7*datum.z2","as":"py2"}],
"mark":{"type":"rule","color":"#a0a0a0","strokeWidth":1},
"encoding":{"x":{"field":"px","type":"quantitative","axis":null},"y":{"field":"py","type":"quantitative","axis":null},"x2":{"field":"px2"},"y2":{"field":"py2"}}},
{"data":{"name":"floor"},"transform":[{"calculate":"618-3.95*datum.a-36.6*datum.b","as":"px"},{"calculate":"335+0.7*datum.a-30*datum.b","as":"py"},{"calculate":"335+0.7*datum.a2-30*datum.b2","as":"py2"}],
"mark":{"type":"area","color":"#08088c","line":false,"orient":"vertical"},
"encoding":{"x":{"field":"px","type":"quantitative","axis":null},"y":{"field":"py","type":"quantitative","axis":null},"y2":{"field":"py2"}}},
{"data":{"name":"bars"},"transform":[{"calculate":"618-3.95*(datum.a+1)-36.6*(datum.b+0.05)","as":"x0"},{"calculate":"618-3.95*datum.a-36.6*datum.b","as":"x1"},{"calculate":"335+0.7*datum.a-30*(datum.b+0.05)-7*datum.n","as":"y0"},{"calculate":"335+0.7*(datum.a+1)-30*datum.b","as":"y1"}],
"mark":{"type":"rect","stroke":"#10108f","strokeWidth":1.2},
"encoding":{"x":{"field":"x0","type":"quantitative","axis":null},"x2":{"field":"x1"},"y":{"field":"y0","type":"quantitative","axis":null},"y2":{"field":"y1"},"order":{"field":"y1","type":"quantitative"},
"fill":{"condition":[
{"test":"datum.n==1","value":{"gradient":"linear","x1":0,"y1":1,"x2":0,"y2":0,"stops":[{"offset":0,"color":"#352a87"},{"offset":1,"color":"#263ea9"}]}},
{"test":"datum.n==2","value":{"gradient":"linear","x1":0,"y1":1,"x2":0,"y2":0,"stops":[{"offset":0,"color":"#352a87"},{"offset":1,"color":"#1752cc"}]}},
{"test":"datum.n==3","value":{"gradient":"linear","x1":0,"y1":1,"x2":0,"y2":0,"stops":[{"offset":0,"color":"#352a87"},{"offset":0.83,"color":"#0f5cdd"},{"offset":1,"color":"#1063dc"}]}},
{"test":"datum.n==4","value":{"gradient":"linear","x1":0,"y1":1,"x2":0,"y2":0,"stops":[{"offset":0,"color":"#352a87"},{"offset":0.625,"color":"#0f5cdd"},{"offset":1,"color":"#1272d9"}]}},
{"test":"datum.n==5","value":{"gradient":"linear","x1":0,"y1":1,"x2":0,"y2":0,"stops":[{"offset":0,"color":"#352a87"},{"offset":0.5,"color":"#0f5cdd"},{"offset":1,"color":"#1481d6"}]}},
{"test":"datum.n==6","value":{"gradient":"linear","x1":0,"y1":1,"x2":0,"y2":0,"stops":[{"offset":0,"color":"#352a87"},{"offset":0.417,"color":"#0f5cdd"},{"offset":0.833,"color":"#1481d6"},{"offset":1,"color":"#0e8fd1"}]}},
{"test":"datum.n==7","value":{"gradient":"linear","x1":0,"y1":1,"x2":0,"y2":0,"stops":[{"offset":0,"color":"#352a87"},{"offset":0.357,"color":"#0f5cdd"},{"offset":0.714,"color":"#1481d6"},{"offset":1,"color":"#099dcc"}]}},
{"test":"datum.n==8","value":{"gradient":"linear","x1":0,"y1":1,"x2":0,"y2":0,"stops":[{"offset":0,"color":"#352a87"},{"offset":0.3125,"color":"#0f5cdd"},{"offset":0.625,"color":"#1481d6"},{"offset":0.9375,"color":"#06a4ca"},{"offset":1,"color":"#0ea8c2"}]}},
{"test":"datum.n==9","value":{"gradient":"linear","x1":0,"y1":1,"x2":0,"y2":0,"stops":[{"offset":0,"color":"#352a87"},{"offset":0.278,"color":"#0f5cdd"},{"offset":0.556,"color":"#1481d6"},{"offset":0.833,"color":"#06a4ca"},{"offset":1,"color":"#1eafb3"}]}},
{"test":"datum.n==10","value":{"gradient":"linear","x1":0,"y1":1,"x2":0,"y2":0,"stops":[{"offset":0,"color":"#352a87"},{"offset":0.25,"color":"#0f5cdd"},{"offset":0.5,"color":"#1481d6"},{"offset":0.75,"color":"#06a4ca"},{"offset":1,"color":"#2eb7a4"}]}},
{"test":"datum.n==11","value":{"gradient":"linear","x1":0,"y1":1,"x2":0,"y2":0,"stops":[{"offset":0,"color":"#352a87"},{"offset":0.227,"color":"#0f5cdd"},{"offset":0.455,"color":"#1481d6"},{"offset":0.682,"color":"#06a4ca"},{"offset":0.909,"color":"#2eb7a4"},{"offset":1,"color":"#52ba92"}]}},
{"test":"datum.n==12","value":{"gradient":"linear","x1":0,"y1":1,"x2":0,"y2":0,"stops":[{"offset":0,"color":"#352a87"},{"offset":0.208,"color":"#0f5cdd"},{"offset":0.417,"color":"#1481d6"},{"offset":0.625,"color":"#06a4ca"},{"offset":0.833,"color":"#2eb7a4"},{"offset":1,"color":"#75bd80"}]}},
{"test":"datum.n==13","value":{"gradient":"linear","x1":0,"y1":1,"x2":0,"y2":0,"stops":[{"offset":0,"color":"#352a87"},{"offset":0.192,"color":"#0f5cdd"},{"offset":0.385,"color":"#1481d6"},{"offset":0.577,"color":"#06a4ca"},{"offset":0.769,"color":"#2eb7a4"},{"offset":0.962,"color":"#87bf77"},{"offset":1,"color":"#96be71"}]}},
{"test":"datum.n==14","value":{"gradient":"linear","x1":0,"y1":1,"x2":0,"y2":0,"stops":[{"offset":0,"color":"#352a87"},{"offset":0.179,"color":"#0f5cdd"},{"offset":0.357,"color":"#1481d6"},{"offset":0.536,"color":"#06a4ca"},{"offset":0.714,"color":"#2eb7a4"},{"offset":0.893,"color":"#87bf77"},{"offset":1,"color":"#b3bd65"}]}},
{"test":"datum.n==15","value":{"gradient":"linear","x1":0,"y1":1,"x2":0,"y2":0,"stops":[{"offset":0,"color":"#352a87"},{"offset":0.167,"color":"#0f5cdd"},{"offset":0.333,"color":"#1481d6"},{"offset":0.5,"color":"#06a4ca"},{"offset":0.667,"color":"#2eb7a4"},{"offset":0.833,"color":"#87bf77"},{"offset":1,"color":"#d1bb59"}]}},
{"test":"datum.n==16","value":{"gradient":"linear","x1":0,"y1":1,"x2":0,"y2":0,"stops":[{"offset":0,"color":"#352a87"},{"offset":0.156,"color":"#0f5cdd"},{"offset":0.3125,"color":"#1481d6"},{"offset":0.469,"color":"#06a4ca"},{"offset":0.625,"color":"#2eb7a4"},{"offset":0.781,"color":"#87bf77"},{"offset":0.9375,"color":"#d1bb59"},{"offset":1,"color":"#e3c049"}]}},
{"test":"datum.n==17","value":{"gradient":"linear","x1":0,"y1":1,"x2":0,"y2":0,"stops":[{"offset":0,"color":"#352a87"},{"offset":0.147,"color":"#0f5cdd"},{"offset":0.294,"color":"#1481d6"},{"offset":0.441,"color":"#06a4ca"},{"offset":0.588,"color":"#2eb7a4"},{"offset":0.735,"color":"#87bf77"},{"offset":0.882,"color":"#d1bb59"},{"offset":1,"color":"#f5c53a"}]}},
{"test":"datum.n==18","value":{"gradient":"linear","x1":0,"y1":1,"x2":0,"y2":0,"stops":[{"offset":0,"color":"#352a87"},{"offset":0.139,"color":"#0f5cdd"},{"offset":0.278,"color":"#1481d6"},{"offset":0.417,"color":"#06a4ca"},{"offset":0.556,"color":"#2eb7a4"},{"offset":0.694,"color":"#87bf77"},{"offset":0.833,"color":"#d1bb59"},{"offset":0.972,"color":"#fec832"},{"offset":1,"color":"#fdd22b"}]}}
],"value":{"gradient":"linear","x1":0,"y1":1,"x2":0,"y2":0,"stops":[{"offset":0,"color":"#352a87"},{"offset":0.132,"color":"#0f5cdd"},{"offset":0.263,"color":"#1481d6"},{"offset":0.395,"color":"#06a4ca"},{"offset":0.526,"color":"#2eb7a4"},{"offset":0.658,"color":"#87bf77"},{"offset":0.789,"color":"#d1bb59"},{"offset":0.921,"color":"#fec832"},{"offset":1,"color":"#fbe61c"}]}}}},
{"data":{"name":"ticks"},"transform":[{"calculate":"618-3.95*datum.a-36.6*datum.b","as":"px"},{"calculate":"335+0.7*datum.a-30*datum.b-7*datum.z","as":"py"},{"calculate":"618-3.95*datum.a2-36.6*datum.b2","as":"px2"},{"calculate":"335+0.7*datum.a2-30*datum.b2-7*datum.z2","as":"py2"}],
"mark":{"type":"rule","color":"#a8a8a8","strokeWidth":1},
"encoding":{"x":{"field":"px","type":"quantitative","axis":null},"y":{"field":"py","type":"quantitative","axis":null},"x2":{"field":"px2"},"y2":{"field":"py2"}}},
{"data":{"name":"zlab"},"transform":[{"calculate":"33","as":"px"},{"calculate":"255-7*datum.z","as":"py"}],
"mark":{"type":"text","align":"right","baseline":"middle","fontSize":13,"color":"#222"},
"encoding":{"x":{"field":"px","type":"quantitative","axis":null},"y":{"field":"py","type":"quantitative","axis":null},"text":{"field":"z","type":"nominal"}}},
{"data":{"name":"rlab"},"transform":[{"calculate":"618-395-36.6*datum.r","as":"px"},{"calculate":"405-30*datum.r","as":"py"}],
"mark":{"type":"text","align":"right","baseline":"middle","fontSize":13,"color":"#222","dx":-18,"dy":10},
"encoding":{"x":{"field":"px","type":"quantitative","axis":null},"y":{"field":"py","type":"quantitative","axis":null},"text":{"field":"r","type":"nominal"}}},
{"data":{"name":"alab"},"transform":[{"calculate":"618-3.95*datum.t","as":"px"},{"calculate":"335+0.7*datum.t","as":"py"}],
"mark":{"type":"text","align":"center","baseline":"middle","fontSize":13,"color":"#222","dx":7,"dy":15},
"encoding":{"x":{"field":"px","type":"quantitative","axis":null},"y":{"field":"py","type":"quantitative","axis":null},"text":{"field":"t","type":"nominal"}}},
{"data":{"values":[{"a":86.9,"b":-0.9,"t":"ionization number by track"}]},"transform":[{"calculate":"618-3.95*datum.a-36.6*datum.b","as":"px"},{"calculate":"335+0.7*datum.a-30*datum.b","as":"py"}],
"mark":{"type":"text","align":"center","baseline":"middle","fontSize":13,"color":"#222","angle":-10},
"encoding":{"x":{"field":"px","type":"quantitative","axis":null},"y":{"field":"py","type":"quantitative","axis":null},"text":{"field":"t","type":"nominal"}}},
{"data":{"values":[{"a":108.8,"b":3.77,"t":"tube radius [cm]"}]},"transform":[{"calculate":"618-3.95*datum.a-36.6*datum.b","as":"px"},{"calculate":"335+0.7*datum.a-30*datum.b","as":"py"}],
"mark":{"type":"text","align":"center","baseline":"middle","fontSize":13,"color":"#222","angle":38},
"encoding":{"x":{"field":"px","type":"quantitative","axis":null},"y":{"field":"py","type":"quantitative","axis":null},"text":{"field":"t","type":"nominal"}}},
{"data":{"name":"stats"},"transform":[{"calculate":"15+8*datum.i","as":"py"}],
"mark":{"type":"text","align":"left","baseline":"middle","fontSize":6.5,"color":"#333"},
"encoding":{"x":{"datum":589,"type":"quantitative","axis":null},"y":{"field":"py","type":"quantitative","axis":null},"text":{"field":"name","type":"nominal"}}},
{"data":{"name":"stats"},"transform":[{"calculate":"15+8*datum.i","as":"py"}],
"mark":{"type":"text","align":"right","baseline":"middle","fontSize":6.5,"color":"#333"},
"encoding":{"x":{"datum":680,"type":"quantitative","axis":null},"y":{"field":"py","type":"quantitative","axis":null},"text":{"field":"val","type":"nominal"}}},
{"data":{"values":[{"t":"hrs","py":6}]},
"mark":{"type":"text","align":"center","baseline":"middle","fontSize":6.5,"color":"#333"},
"encoding":{"x":{"datum":635,"type":"quantitative","axis":null},"y":{"field":"py","type":"quantitative","axis":null},"text":{"field":"t","type":"nominal"}}},
{"data":{"values":[{"py":2},{"py":11},{"py":52}]},
"mark":{"type":"rule","color":"#aaaaaa","strokeWidth":1},
"encoding":{"x":{"datum":583,"type":"quantitative","axis":null},"x2":{"datum":681},"y":{"field":"py","type":"quantitative","axis":null}}}
]}
